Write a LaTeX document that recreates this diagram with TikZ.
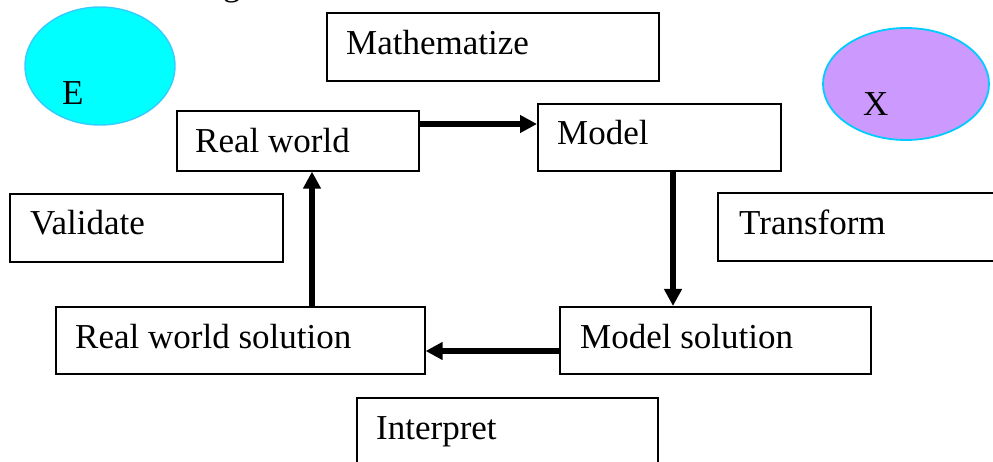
\documentclass[tikz,border=0pt]{standalone}
\usepackage{fontspec}
\setmainfont{Liberation Serif}
\usetikzlibrary{arrows.meta}

\definecolor{ecyan}{HTML}{00FFFF}
\definecolor{ecyanrim}{HTML}{33CCFF}
\definecolor{xviolet}{HTML}{CC99FF}
\definecolor{xrim}{HTML}{00CCFF}

\tikzset{
  box/.style={draw=black, line width=1.6pt, rectangle, anchor=north west, inner sep=0pt},
  lbl/.style={anchor=base west, inner sep=0pt, font=\fontsize{35}{40}\selectfont},
  flow/.style={line width=6pt, -{Triangle[length=17pt,width=17pt]}},
}

\begin{document}
\begin{tikzpicture}[x=1pt, y=-1pt]
\useasboundingbox (0,0) rectangle (993,462);

% Coloured ellipses
\draw[fill=ecyan, draw=ecyanrim, line width=1.4pt] (100,66) ellipse [x radius=75, y radius=59];
\node[lbl] (e) at (62,105) {E};
\draw[fill=xviolet, draw=xrim, line width=1.8pt] (906,84) ellipse [x radius=83, y radius=56];
\node[lbl] (x) at (863,116) {X};

% Caption running off the top edge
\node[lbl] (cap) at (223,-4) {g};

% Process boxes
\node[box, minimum width=242pt, minimum height=60pt] (rw) at (176,110) {};
\node[lbl] at (195,153) {Real world};
\node[box, minimum width=243pt, minimum height=67pt] (md) at (537,103) {};
\node[lbl] at (557,145) {Model};
\node[box, minimum width=311pt, minimum height=67pt] (ms) at (559,306) {};
\node[lbl] at (580,348) {Model solution};
\node[box, minimum width=369pt, minimum height=67pt] (rs) at (55,306) {};
\node[lbl] at (75,348) {Real world solution};

% Step labels
\node[box, minimum width=332pt, minimum height=68pt] (math) at (326,12) {};
\node[lbl] at (346,55) {Mathematize};
\node[box, minimum width=273pt, minimum height=68pt] (val) at (9,193) {};
\node[lbl] at (30,235) {Validate};
\node[box, minimum width=290pt, minimum height=68pt] (tra) at (717,192) {};
\node[lbl] at (739,235) {Transform};
\node[box, minimum width=301pt, minimum height=80pt] (int) at (356,397) {};
\node[lbl] at (376,439) {Interpret};

% Cycle arrows
\draw[flow] (rw.east |- 0,124) -- (md.west |- 0,124);
\draw[flow] (md.south -| 673,0) -- (ms.north -| 673,0);
\draw[flow] (ms.west |- 0,351) -- (rs.east |- 0,351);
\draw[flow] (rs.north -| 312,0) -- (rw.south -| 312,0);
\end{tikzpicture}
\end{document}
